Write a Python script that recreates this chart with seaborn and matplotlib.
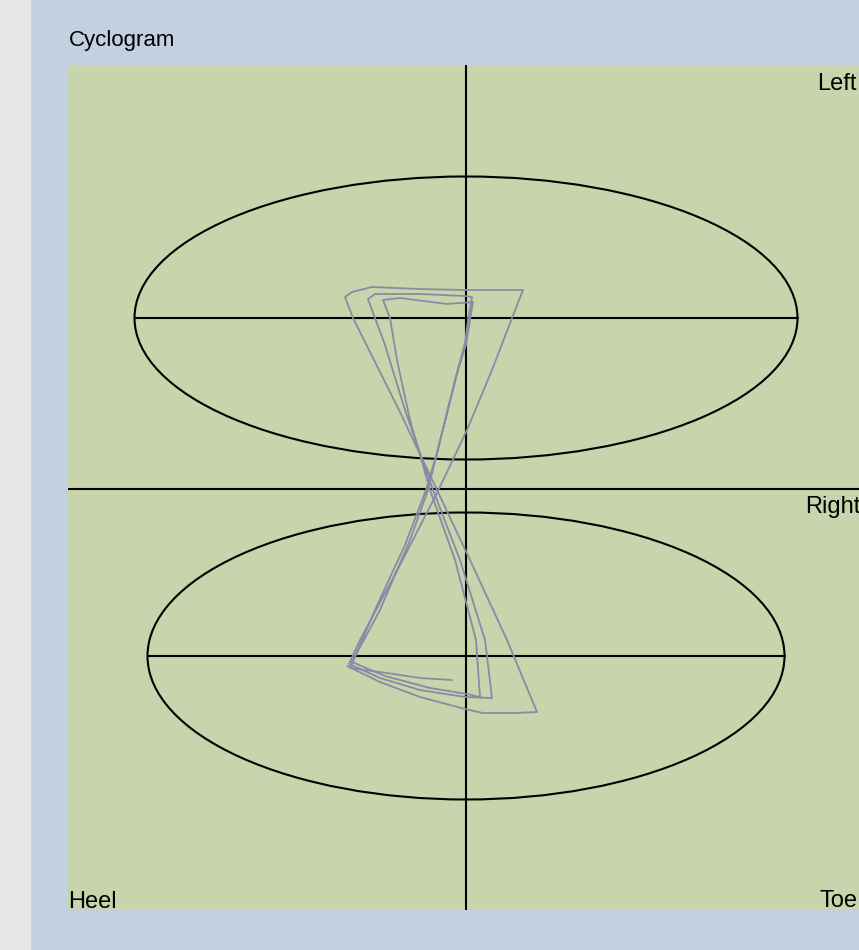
import matplotlib
matplotlib.use("Agg")
import pandas as pd
import matplotlib.pyplot as plt
import seaborn as sns
from matplotlib.patches import Ellipse, Rectangle

# cyclogram trace (three gait cycles), centre of the cross = (0, 0)
trace_x = [-119, -86, -46, -1, 17, 49, 71, 41, 4, -29, -66, -96, -113, -121,
           -114, -94, -46, -1, 57, 46, 26, 1, -29, -66, -106, -117,
           -86, -46, -1, 26, 19, -6, -33, -61, -81, -91, -98,
           -91, -46, -1, 6, 2, -1, -11, -29, -38, -56, -86, -114,
           -81, -36, 1, 14, 10, -11, -36, -56, -69, -76, -83,
           -66, -19, 7, 4, 0, -8, -29, -40, -61, -91, -116,
           -86, -46, -14]
trace_y = [-177, -193, -208, -220, -224, -224, -223, -151, -71, -1, 77, 137, 171, 192,
           197, 202, 200, 199, 199, 171, 119, 59, -4, -76, -151, -175,
           -189, -201, -208, -209, -151, -71, -1, 79, 144, 171, 190,
           195, 195, 193, 192, 169, 146, 109, 36, -1, -51, -121, -173,
           -187, -199, -205, -208, -151, -71, -1, 69, 129, 171, 189,
           191, 185, 187, 169, 144, 119, 36, -1, -56, -121, -179,
           -183, -189, -191]

# reference ellipses: (centre x, centre y, width, height)
left_ellipse = (0, 171, 663, 283)
right_ellipse = (0, -167, 637, 287)

corner_labels = ["Left", "Right", "Heel", "Toe"]

W, H = 859, 950

sns.set_style("white")
plt.rcParams['font.family'] = ['Liberation Sans', 'DejaVu Sans']
plt.rcParams['text.color'] = 'black'

fig = plt.figure(figsize=(W / 100, H / 100), dpi=100, facecolor='#c2d0df')
fig.patches.append(Rectangle((0, 0), 31 / W, 1, transform=fig.transFigure,
                             facecolor='#e6e6e6', edgecolor='none', zorder=0))

ax = fig.add_axes([68 / W, 40 / H, (W - 68) / W, 845 / H])
ax.set_facecolor('#c8d4ab')
ax.set_xlim(-398, 393)
ax.set_ylim(-421, 424)
ax.set_xticks([])
ax.set_yticks([])
for s in ax.spines.values():
    s.set_visible(False)

# cross
ax.axvline(0, color='black', lw=1.5, zorder=2)
ax.axhline(0, color='black', lw=1.5, zorder=2)

for cx, cy, w, h in [left_ellipse, right_ellipse]:
    ax.add_patch(Ellipse((cx, cy), w, h, fill=False, edgecolor='black', lw=1.5, zorder=2))
    ax.plot([cx - w / 2, cx + w / 2], [cy, cy], color='black', lw=1.5, zorder=2)

df = pd.DataFrame({"x": trace_x, "y": trace_y})
sns.lineplot(data=df, x="x", y="y", sort=False, estimator=None,
             color='#868ca6', lw=1.3, ax=ax, zorder=3)
ax.set_xlabel("")
ax.set_ylabel("")

fig.text(69 / W, 1 - 46 / H, "Cyclogram", fontsize=16, va='baseline', ha='left', color='black')
label_pos = [(817, 90), (805, 513), (68, 908), (820, 907)]
for lab, (px, py) in zip(corner_labels, label_pos):
    fig.text(px / W, 1 - py / H, lab, fontsize=17, va='baseline', ha='left', color='black')

fig.savefig("out.png", dpi=100, facecolor=fig.get_facecolor())
